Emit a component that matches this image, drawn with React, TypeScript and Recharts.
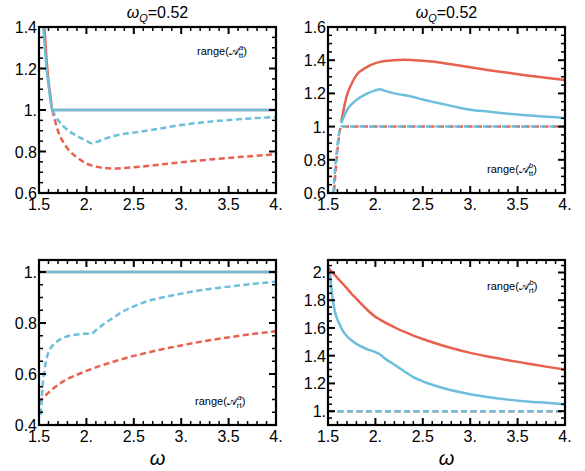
import React from "react";
import { LineChart, Line, XAxis, YAxis } from "recharts";

// shared omega grid
const omega = [
  1.5, 1.52, 1.54, 1.56, 1.58, 1.6, 1.62, 1.64, 1.7, 1.75, 1.8, 1.9, 2.0, 2.05,
  2.1, 2.2, 2.3, 2.4, 2.5, 2.6, 2.8, 3.0, 3.2, 3.4, 3.6, 3.8, 4.0,
];
const _ = null;

// range(A_tt^a)
const ttaRedSolid = [2.6, 1.9, 1.55, 1.38, 1.24, 1.14, 1.07, 1.0, 1, 1, 1, 1, 1, 1, 1, 1, 1, 1, 1, 1, 1, 1, 1, 1, 1, 1, 1];
const ttaBlueSolid = [2.4, 1.75, 1.45, 1.31, 1.2, 1.12, 1.05, 1.0, 1, 1, 1, 1, 1, 1, 1, 1, 1, 1, 1, 1, 1, 1, 1, 1, 1, 1, 1];
const ttaRedDash = [_, _, _, _, _, _, _, 1.0, 0.9, 0.85, 0.815, 0.772, 0.742, 0.733, 0.727, 0.72, 0.718, 0.72, 0.724, 0.728, 0.738, 0.748, 0.757, 0.765, 0.773, 0.78, 0.787];
const ttaBlueDash = [_, _, _, _, _, _, _, 1.0, 0.952, 0.925, 0.904, 0.875, 0.852, 0.84, 0.845, 0.862, 0.876, 0.885, 0.891, 0.898, 0.912, 0.928, 0.939, 0.948, 0.955, 0.961, 0.966];

// range(A_tt^b)
const ttbRedSolid = [_, _, _, _, _, _, _, 1.03, 1.19, 1.26, 1.31, 1.355, 1.382, 1.39, 1.395, 1.4, 1.402, 1.4, 1.397, 1.392, 1.375, 1.357, 1.34, 1.324, 1.308, 1.294, 1.28];
const ttbBlueSolid = [_, _, _, _, _, _, _, 1.02, 1.1, 1.135, 1.16, 1.195, 1.218, 1.225, 1.215, 1.2, 1.19, 1.178, 1.163, 1.15, 1.125, 1.102, 1.09, 1.077, 1.068, 1.06, 1.052];
const ttbRedDash = [0.1, 0.28, 0.44, 0.58, 0.73, 0.86, 0.96, 1.0, 1, 1, 1, 1, 1, 1, 1, 1, 1, 1, 1, 1, 1, 1, 1, 1, 1, 1, 1];
const ttbBlueDash = [0.2, 0.35, 0.5, 0.64, 0.78, 0.89, 0.97, 1.0, 1, 1, 1, 1, 1, 1, 1, 1, 1, 1, 1, 1, 1, 1, 1, 1, 1, 1, 1];

// range(A_rt^a)
const rtaRedSolid = [1, 1, 1, 1, 1, 1, 1, 1, 1, 1, 1, 1, 1, 1, 1, 1, 1, 1, 1, 1, 1, 1, 1, 1, 1, 1, 1];
const rtaBlueSolid = [1, 1, 1, 1, 1, 1, 1, 1, 1, 1, 1, 1, 1, 1, 1, 1, 1, 1, 1, 1, 1, 1, 1, 1, 1, 1, 1];
const rtaRedDash = [0.488, 0.497, 0.505, 0.513, 0.52, 0.527, 0.534, 0.54, 0.557, 0.57, 0.58, 0.597, 0.612, 0.619, 0.626, 0.638, 0.65, 0.661, 0.671, 0.68, 0.697, 0.712, 0.726, 0.738, 0.749, 0.759, 0.768];
const rtaBlueDash = [_, 0.44, 0.56, 0.62, 0.66, 0.685, 0.7, 0.71, 0.73, 0.74, 0.748, 0.755, 0.758, 0.758, 0.772, 0.8, 0.825, 0.848, 0.865, 0.88, 0.9, 0.915, 0.928, 0.938, 0.947, 0.955, 0.962];

// range(A_rt^b)
const rtbRedSolid = [2.04, 2.02, 2.005, 1.99, 1.975, 1.96, 1.945, 1.93, 1.885, 1.845, 1.81, 1.74, 1.68, 1.66, 1.64, 1.605, 1.573, 1.545, 1.52, 1.497, 1.455, 1.42, 1.392, 1.367, 1.344, 1.321, 1.3];
const rtbBlueSolid = [_, 2.0, 1.86, 1.76, 1.7, 1.66, 1.63, 1.6, 1.54, 1.51, 1.485, 1.45, 1.425, 1.408, 1.38, 1.335, 1.29, 1.245, 1.215, 1.19, 1.15, 1.122, 1.1, 1.083, 1.07, 1.06, 1.05];
const rtbRedDash = [1, 1, 1, 1, 1, 1, 1, 1, 1, 1, 1, 1, 1, 1, 1, 1, 1, 1, 1, 1, 1, 1, 1, 1, 1, 1, 1];
const rtbBlueDash = [1, 1, 1, 1, 1, 1, 1, 1, 1, 1, 1, 1, 1, 1, 1, 1, 1, 1, 1, 1, 1, 1, 1, 1, 1, 1, 1];

const xMajor = [1.5, 2, 2.5, 3, 3.5, 4];
const xMinorStep = 0.1;
const yMinorStep = 0.05;

const RED = "#e9604e";
const BLUE = "#6cbedb";
const FONT = "'Liberation Sans', Arial, sans-serif";

type Series = { data: (number | null)[]; color: string; dashed?: boolean };
type PanelCfg = {
  left: number;
  top: number;
  width: number;
  height: number;
  margin: { top: number; right: number; bottom: number; left: number };
  yDomain: [number, number];
  yMajor: number[];
  series: Series[];
};

const fmt = (v: number) => {
  const r = Math.round(v * 100) / 100;
  return Number.isInteger(r) ? `${r}.` : String(r);
};

const minorTicks = (lo: number, hi: number, step: number) => {
  const out: number[] = [];
  for (let v = Math.ceil(lo / step - 1e-6) * step; v <= hi + 1e-9; v += step) {
    out.push(Math.round(v * 1000) / 1000);
  }
  return out;
};

const isMajor = (v: number, majors: number[]) =>
  majors.some((m) => Math.abs(m - v) < 1e-6);

const panels: PanelCfg[] = [
  {
    left: 0, top: 0, width: 290, height: 235,
    margin: { top: 27, right: 14, bottom: 42, left: 39 },
    yDomain: [0.6, 1.4],
    yMajor: [0.6, 0.8, 1.0, 1.2, 1.4],
    series: [
      { data: ttaRedSolid, color: RED },
      { data: ttaBlueSolid, color: BLUE },
      { data: ttaRedDash, color: RED, dashed: true },
      { data: ttaBlueDash, color: BLUE, dashed: true },
    ],
  },
  {
    left: 290, top: 0, width: 295, height: 235,
    margin: { top: 27, right: 20, bottom: 42, left: 38 },
    yDomain: [0.6, 1.6],
    yMajor: [0.6, 0.8, 1.0, 1.2, 1.4, 1.6],
    series: [
      { data: ttbRedSolid, color: RED },
      { data: ttbBlueSolid, color: BLUE },
      { data: ttbRedDash, color: RED, dashed: true },
      { data: ttbBlueDash, color: BLUE, dashed: true },
    ],
  },
  {
    left: 0, top: 235, width: 290, height: 236,
    margin: { top: 25, right: 14, bottom: 46, left: 39 },
    yDomain: [0.4, 1.047],
    yMajor: [0.4, 0.6, 0.8, 1.0],
    series: [
      { data: rtaRedSolid, color: RED },
      { data: rtaBlueSolid, color: BLUE },
      { data: rtaRedDash, color: RED, dashed: true },
      { data: rtaBlueDash, color: BLUE, dashed: true },
    ],
  },
  {
    left: 290, top: 235, width: 295, height: 236,
    margin: { top: 25, right: 20, bottom: 46, left: 38 },
    yDomain: [0.9, 2.09],
    yMajor: [1.0, 1.2, 1.4, 1.6, 1.8, 2.0],
    series: [
      { data: rtbRedSolid, color: RED },
      { data: rtbBlueSolid, color: BLUE },
      { data: rtbRedDash, color: RED, dashed: true },
      { data: rtbBlueDash, color: BLUE, dashed: true },
    ],
  },
];

function Panel({ cfg }: { cfg: PanelCfg }) {
  const { width, height, margin, yDomain, yMajor, series } = cfg;
  const rows = omega.map((w, i) => {
    const r: Record<string, number | null> = { w };
    series.forEach((s, j) => (r["s" + j] = s.data[i]));
    return r;
  });
  const plotL = margin.left;
  const plotR = width - margin.right;
  const plotT = margin.top;
  const plotB = height - margin.bottom;
  const xTicks = minorTicks(1.5, 4, xMinorStep);
  const yTicks = minorTicks(yDomain[0], yDomain[1], yMinorStep);
  // axes need a non-zero size to be drawn; take it out of the margin
  const chartMargin = { ...margin, left: margin.left - 1, bottom: margin.bottom - 1 };

  const XTick = (p: any) => {
    const v = p.payload.value;
    const major = isMajor(v, xMajor);
    const len = major ? 7 : 4;
    const sw = major ? 2 : 1.5;
    return (
      <g>
        <line x1={p.x} x2={p.x} y1={plotB} y2={plotB - len} stroke="#000" strokeWidth={sw} />
        <line x1={p.x} x2={p.x} y1={plotT} y2={plotT + len} stroke="#000" strokeWidth={sw} />
        {major && (
          <text x={p.x} y={plotB + 17} textAnchor="middle" fontSize={16} fontFamily={FONT} fill="#000">
            {fmt(v)}
          </text>
        )}
      </g>
    );
  };

  const YTick = (p: any) => {
    const v = p.payload.value;
    const major = isMajor(v, yMajor);
    const len = major ? 7 : 4;
    const sw = major ? 2 : 1.5;
    return (
      <g>
        <line x1={plotL} x2={plotL + len} y1={p.y} y2={p.y} stroke="#000" strokeWidth={sw} />
        <line x1={plotR} x2={plotR - len} y1={p.y} y2={p.y} stroke="#000" strokeWidth={sw} />
        {major && (
          <text x={plotL - 2} y={p.y + 6} textAnchor="end" fontSize={16} fontFamily={FONT} fill="#000">
            {fmt(v)}
          </text>
        )}
      </g>
    );
  };

  return (
    <div style={{ position: "absolute", left: cfg.left, top: cfg.top }}>
      <LineChart width={width} height={height} margin={chartMargin} data={rows}>
        <XAxis
          dataKey="w"
          type="number"
          domain={[1.5, 4]}
          ticks={xTicks}
          interval={0}
          tick={XTick}
          tickLine={false}
          axisLine={false}
          height={1}
          allowDataOverflow
        />
        <YAxis
          type="number"
          domain={yDomain}
          ticks={yTicks}
          interval={0}
          tick={YTick}
          tickLine={false}
          axisLine={false}
          width={1}
          allowDataOverflow
        />
        {series.map((s, j) => (
          <Line
            key={j}
            dataKey={"s" + j}
            type="monotone"
            stroke={s.color}
            strokeWidth={2.5}
            strokeDasharray={s.dashed ? "6 3.5" : undefined}
            dot={false}
            activeDot={false}
            connectNulls={false}
            isAnimationActive={false}
          />
        ))}
      </LineChart>
    </div>
  );
}

function RangeLabel({ x, y, sub, sup }: { x: number; y: number; sub: string; sup: string }) {
  return (
    <text x={x} y={y} fontSize={11} fontFamily={FONT} fill="#000">
      range(
      <tspan>𝒜</tspan>
      <tspan fontSize={8} dy={3}>{sub}</tspan>
      <tspan fontSize={8} fontStyle="italic" dx={-4.5} dy={-8}>{sup}</tspan>
      <tspan dy={5}>)</tspan>
    </text>
  );
}

export default function App() {
  const frames = panels.map((p) => ({
    x: p.left + p.margin.left,
    y: p.top + p.margin.top,
    w: p.width - p.margin.left - p.margin.right,
    h: p.height - p.margin.top - p.margin.bottom,
  }));
  return (
    <div style={{ position: "absolute", left: 0, top: 0, width: 585, height: 471, background: "#fff" }}>
      {panels.map((p, i) => (
        <Panel key={i} cfg={p} />
      ))}
      <svg width={585} height={471} style={{ position: "absolute", left: 0, top: 0, pointerEvents: "none" }}>
        {frames.map((f, i) => (
          <rect key={i} x={f.x} y={f.y} width={f.w} height={f.h} fill="none" stroke="#000" strokeWidth={2.2} />
        ))}
        {[frames[0], frames[1]].map((f, i) => (
          <text key={i} x={f.x + f.w / 2} y={18} textAnchor="middle" fontSize={16} fontFamily={FONT} fill="#000">
            <tspan fontStyle="italic">ω</tspan>
            <tspan fontSize={11} fontStyle="italic" dy={4}>Q</tspan>
            <tspan dy={-4}>=0.52</tspan>
          </text>
        ))}
        {[frames[2], frames[3]].map((f, i) => (
          <text key={i} x={f.x + f.w / 2} y={465} textAnchor="middle" fontSize={20} fontStyle="italic" fontFamily={FONT} fill="#000">
            ω
          </text>
        ))}
        <RangeLabel x={197} y={55} sub="tt" sup="a" />
        <RangeLabel x={487} y={173} sub="tt" sup="b" />
        <RangeLabel x={195} y={405} sub="rt" sup="a" />
        <RangeLabel x={487} y={290} sub="rt" sup="b" />
      </svg>
    </div>
  );
}
